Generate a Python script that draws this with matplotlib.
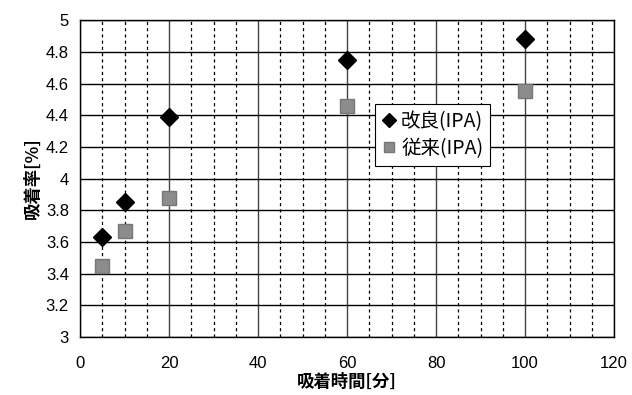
import numpy as np
import matplotlib
matplotlib.use("Agg")
from matplotlib import pyplot as plt
from matplotlib.ticker import MultipleLocator

plt.rcParams['font.family'] = ['Liberation Sans', 'Noto Sans CJK JP']

# data
t = [5, 10, 20, 60, 100]
kairyo = [3.63, 3.85, 4.39, 4.75, 4.88]
jurai = [3.45, 3.67, 3.88, 4.46, 4.55]
labels = ['改良(IPA)', '従来(IPA)']

fig = plt.figure(figsize=(6.32, 3.95), dpi=100)
ax = fig.add_axes([0.1266, 0.147, 0.845, 0.802])

ax.set_xlim(0, 120)
ax.set_ylim(3, 5)
ax.xaxis.set_major_locator(MultipleLocator(20))
ax.xaxis.set_minor_locator(MultipleLocator(5))
ax.yaxis.set_major_locator(MultipleLocator(0.2))

ax.grid(which='major', axis='y', color='black', lw=1.0)
ax.grid(which='major', axis='x', color='#444444', lw=1.0)
ax.grid(which='minor', axis='x', color='black', lw=0.9, ls=(0, (2.5, 2.5)))
ax.set_axisbelow(True)

ax.plot(t, kairyo, ls='none', marker='D', ms=9.5, color='black', label=labels[0], zorder=3)
ax.plot(t, jurai, ls='none', marker='s', ms=10, color='#8c8c8c', mec='#777777',
        label=labels[1], zorder=3)

ax.set_yticks(np.arange(3, 5.01, 0.2))
ax.set_yticklabels(['3', '3.2', '3.4', '3.6', '3.8', '4', '4.2', '4.4', '4.6', '4.8', '5'])
ax.tick_params(which='both', length=0, labelsize=12)
ax.tick_params(axis='x', pad=14)
ax.tick_params(axis='y', pad=8)

for s in ax.spines.values():
    s.set_color('black')
    s.set_linewidth(1.0)

cjk = ['Noto Sans CJK JP', 'DejaVu Sans']
ax.set_xlabel('吸着時間[分]', fontsize=12.5, fontweight='bold', family=cjk, labelpad=1)
ax.set_ylabel('吸着率[%]', fontsize=12.5, fontweight='bold', family=cjk, labelpad=3)

leg = ax.legend(loc='upper left', bbox_to_anchor=(0.552, 0.735), frameon=True,
                fancybox=False, edgecolor='black', framealpha=1,
                prop={'family': cjk, 'size': 14}, handletextpad=0.2,
                handlelength=0.8, borderpad=0.35, labelspacing=0.3, borderaxespad=0,
                markerscale=0.75)
leg.get_frame().set_linewidth(0.8)

fig.savefig('out.png', dpi=100)
